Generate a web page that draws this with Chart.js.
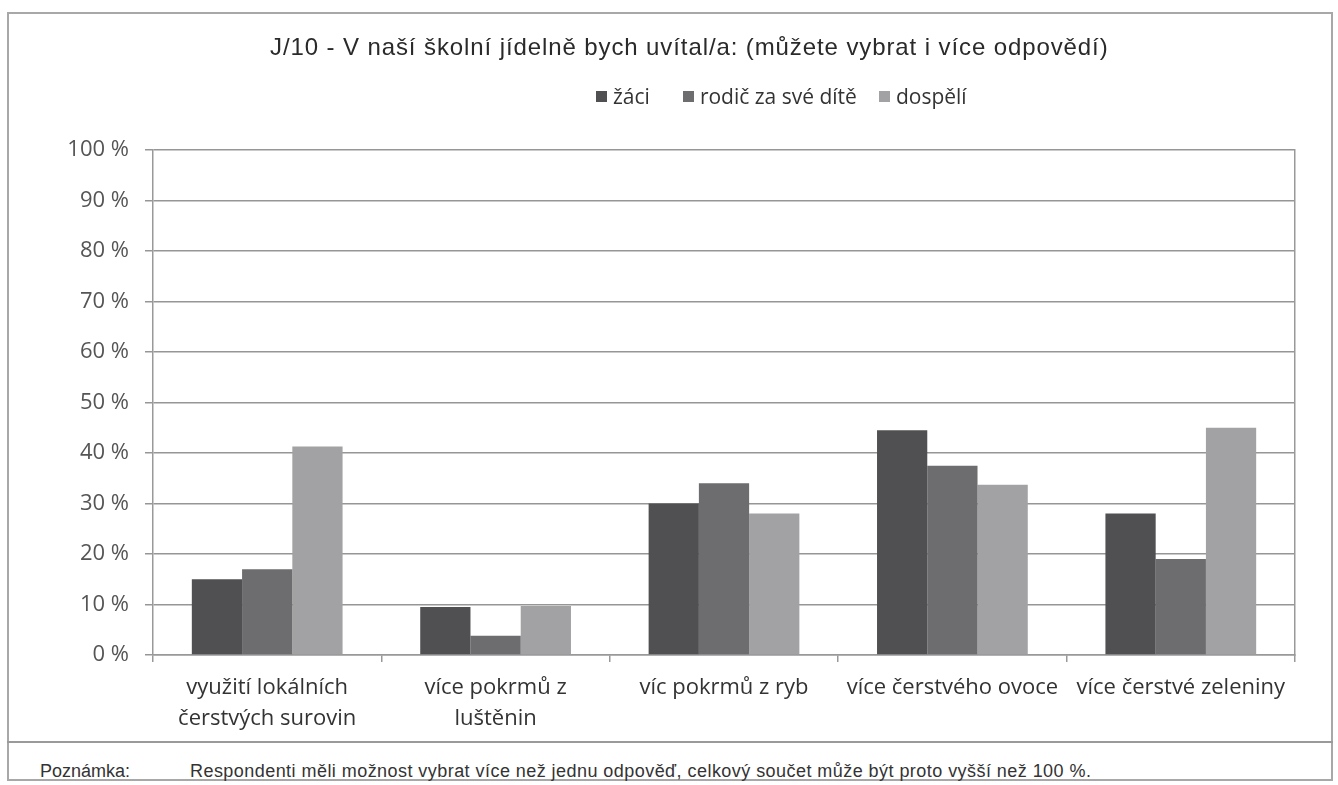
<!DOCTYPE html>
<html lang="cs">
<head>
<meta charset="utf-8">
<title>J/10 - V naší školní jídelně bych uvítal/a</title>
<script src="https://cdn.jsdelivr.net/npm/chart.js@4.4.1/dist/chart.umd.min.js"></script>
<style>
  html, body { margin: 0; padding: 0; background: #fff; }
  #page { position: relative; width: 1338px; height: 785px; overflow: hidden; background: #fff; }
  #frame {
    position: absolute; left: 7px; top: 12px; width: 1326px; height: 769px;
    border: 2px solid #a8a8a8; box-sizing: border-box;
  }
  #title {
    position: absolute; left: 270px; top: 33px; white-space: nowrap; letter-spacing: 0.9px;
    font: 24px "Liberation Sans", Arial, sans-serif; color: #2a2a2a;
  }
  #legend {
    position: absolute; left: 596px; top: 82px; display: flex;
    font: 21px "Open Sans", sans-serif; color: #333;
  }
  #legend span { display: inline-flex; align-items: center; }
  #legend span:nth-child(1) { margin-right: 33px; }
  #legend span:nth-child(2) { margin-right: 22px; }
  #legend i { display: inline-block; width: 11px; height: 11px; margin-right: 6px; }
  #chartBox { position: absolute; left: 0; top: 0; width: 1338px; height: 740px; }
  #sep { position: absolute; left: 7px; width: 1326px; top: 741px; border-top: 2px solid #9a9a9a; }
  #note {
    position: absolute; top: 761px; left: 40px; white-space: nowrap;
    font: 18px "Liberation Sans", Arial, sans-serif; color: #333;
  }
  #note b { font-weight: normal; display: inline-block; width: 150px; }
  #note em { font-style: normal; letter-spacing: 0.45px; }
</style>
</head>
<body>
<div id="page">
  <div id="frame"></div>
  <div id="chartBox"><canvas id="barChart"></canvas></div>
  <div id="title">J/10 - V naší školní jídelně bych uvítal/a: (můžete vybrat i více odpovědí)</div>
  <div id="legend"></div>
  <div id="sep"></div>
  <div id="note"><b>Poznámka:</b><em>Respondenti měli možnost vybrat více než jednu odpověď, celkový součet může být proto vyšší než 100 %.</em></div>
</div>
<script>
// ── Data ────────────────────────────────────────────────────────────────────
const categories = [
  ['využití lokálních', 'čerstvých surovin'],
  ['více pokrmů z', 'luštěnin'],
  'víc pokrmů z ryb',
  'více čerstvého ovoce',
  'více čerstvé zeleniny',
];
const seriesNames = ['žáci', 'rodič za své dítě', 'dospělí'];
const zaci     = [15, 9.5, 30, 44.5, 28];
const rodic    = [17, 3.8, 34, 37.5, 19];
const dospeli  = [41.3, 9.7, 28, 33.7, 45];
const yTicks   = [0, 10, 20, 30, 40, 50, 60, 70, 80, 90, 100];

const COLORS = ['#505052', '#6d6d6f', '#a2a2a4'];

// ── Chart ───────────────────────────────────────────────────────────────────
const chart = new Chart(document.getElementById('barChart'), {
  type: 'bar',
  data: {
    labels: categories,
    datasets: [zaci, rodic, dospeli].map((data, i) => ({
      label: seriesNames[i],
      data,
      backgroundColor: COLORS[i],
      borderWidth: 0,
      categoryPercentage: 0.66,
      barPercentage: 1,
    })),
  },
  options: {
    responsive: true,
    maintainAspectRatio: false,
    animation: false,
    layout: { padding: { left: 0, right: 43, top: 150, bottom: 0 } },
    plugins: {
      legend : { display: false },
      title  : { display: false },
      tooltip: { enabled: false },
    },
    scales: {
      x: {
        grid  : { offset: true, drawOnChartArea: false, tickLength: 7, color: '#999', lineWidth: 1.5 },
        border: { color: '#999', width: 1.5 },
        ticks : {
          autoSkip: false, maxRotation: 0, minRotation: 0, padding: 11,
          color: '#333', font: { family: 'Open Sans', size: 22, lineHeight: 1.38 },
        },
        afterFit: s => { s.height = 85; },
      },
      y: {
        min: 0, max: 100,
        afterBuildTicks: s => { s.ticks = yTicks.map(v => ({ value: v })); },
        grid  : { color: '#969696', lineWidth: 1.5, tickLength: 8 },
        border: { color: '#999', width: 1.5 },
        ticks : {
          padding: 16, color: '#555',
          font: { family: 'Open Sans', size: 22 },
          callback: v => v + ' %',
        },
        afterFit: s => { s.width = 153; },
      },
      y2: {
        position: 'right', min: 0, max: 100,
        grid  : { display: false },
        border: { color: '#999', width: 1.5 },
        ticks : { display: false },
        afterFit: s => { s.width = 0; },
      },
    },
  },
});

// ── Legend (HTML) ───────────────────────────────────────────────────────────
const legendEl = document.getElementById('legend');
chart.data.datasets.forEach(ds => {
  const item = document.createElement('span');
  item.innerHTML = `<i style="background:${ds.backgroundColor}"></i>${ds.label}`;
  legendEl.appendChild(item);
});
</script>
</body>
</html>
